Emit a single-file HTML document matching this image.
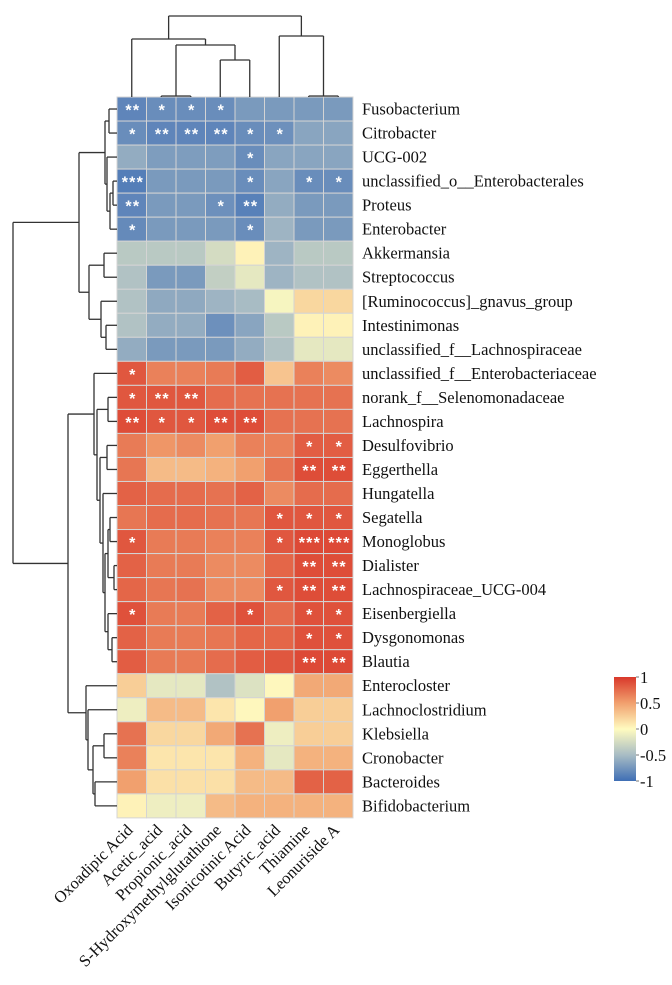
<!DOCTYPE html>
<html><head><meta charset="utf-8"><style>
html,body{margin:0;padding:0;background:#fff;}
svg{display:block;font-family:"Liberation Serif",serif;}
</style></head><body>
<svg id="chart" width="672" height="985" viewBox="0 0 672 985" xmlns="http://www.w3.org/2000/svg"></svg>
<script>
const columns = ["Oxoadipic Acid","Acetic_acid","Propionic_acid","S-Hydroxymethylglutathione","Isonicotinic Acid","Butyric_acid","Thiamine","Leonuriside A"];
const rows = ["Fusobacterium","Citrobacter","UCG-002","unclassified_o__Enterobacterales","Proteus","Enterobacter","Akkermansia","Streptococcus","[Ruminococcus]_gnavus_group","Intestinimonas","unclassified_f__Lachnospiraceae","unclassified_f__Enterobacteriaceae","norank_f__Selenomonadaceae","Lachnospira","Desulfovibrio","Eggerthella","Hungatella","Segatella","Monoglobus","Dialister","Lachnospiraceae_UCG-004","Eisenbergiella","Dysgonomonas","Blautia","Enterocloster","Lachnoclostridium","Klebsiella","Cronobacter","Bacteroides","Bifidobacterium"];
const values = [
[-0.85,-0.8,-0.8,-0.8,-0.72,-0.72,-0.72,-0.72],
[-0.8,-0.85,-0.85,-0.85,-0.8,-0.78,-0.65,-0.65],
[-0.6,-0.7,-0.7,-0.7,-0.8,-0.65,-0.65,-0.65],
[-0.9,-0.72,-0.72,-0.72,-0.8,-0.65,-0.8,-0.8],
[-0.85,-0.72,-0.72,-0.78,-0.88,-0.6,-0.72,-0.72],
[-0.82,-0.72,-0.72,-0.72,-0.8,-0.55,-0.72,-0.72],
[-0.4,-0.4,-0.4,-0.25,0.05,-0.55,-0.4,-0.4],
[-0.45,-0.72,-0.72,-0.35,-0.15,-0.55,-0.45,-0.45],
[-0.45,-0.62,-0.62,-0.55,-0.5,-0.05,0.2,0.2],
[-0.45,-0.6,-0.6,-0.78,-0.65,-0.4,0.05,0.05],
[-0.6,-0.72,-0.72,-0.72,-0.6,-0.45,-0.15,-0.15],
[0.85,0.65,0.65,0.68,0.82,0.3,0.65,0.6],
[0.85,0.85,0.85,0.75,0.72,0.72,0.72,0.72],
[0.9,0.85,0.85,0.9,0.9,0.72,0.72,0.72],
[0.68,0.55,0.6,0.5,0.65,0.65,0.82,0.82],
[0.7,0.35,0.35,0.4,0.5,0.7,0.9,0.9],
[0.8,0.75,0.75,0.72,0.8,0.6,0.75,0.75],
[0.7,0.75,0.75,0.72,0.7,0.85,0.85,0.85],
[0.85,0.68,0.68,0.65,0.65,0.85,0.92,0.92],
[0.8,0.68,0.68,0.6,0.6,0.78,0.9,0.9],
[0.78,0.7,0.72,0.6,0.6,0.85,0.9,0.9],
[0.88,0.68,0.68,0.8,0.88,0.75,0.88,0.88],
[0.8,0.68,0.68,0.7,0.78,0.78,0.88,0.88],
[0.82,0.68,0.68,0.75,0.82,0.85,0.92,0.92],
[0.25,-0.15,-0.15,-0.45,-0.2,0.02,0.45,0.45],
[-0.1,0.35,0.35,0.12,0.02,0.5,0.25,0.25],
[0.72,0.2,0.2,0.45,0.72,-0.1,0.25,0.25],
[0.65,0.12,0.12,0.12,0.4,-0.15,0.4,0.4],
[0.5,0.15,0.15,0.15,0.35,0.35,0.8,0.8],
[0.05,-0.1,-0.1,0.35,0.4,0.4,0.4,0.4]
];
const stars = [
["**","*","*","*","","","",""],
["*","**","**","**","*","*","",""],
["","","","","*","","",""],
["***","","","","*","","*","*"],
["**","","","*","**","","",""],
["*","","","","*","","",""],
["","","","","","","",""],
["","","","","","","",""],
["","","","","","","",""],
["","","","","","","",""],
["","","","","","","",""],
["*","","","","","","",""],
["*","**","**","","","","",""],
["**","*","*","**","**","","",""],
["","","","","","","*","*"],
["","","","","","","**","**"],
["","","","","","","",""],
["","","","","","*","*","*"],
["*","","","","","*","***","***"],
["","","","","","","**","**"],
["","","","","","*","**","**"],
["*","","","","*","","*","*"],
["","","","","","","*","*"],
["","","","","","","**","**"],
["","","","","","","",""],
["","","","","","","",""],
["","","","","","","",""],
["","","","","","","",""],
["","","","","","","",""],
["","","","","","","",""]
];
const legendTicks = [1,0.5,0,-0.5,-1];

const NS="http://www.w3.org/2000/svg";
const svg=document.getElementById('chart');
const X0=117, Y0=97, CW=29.5, RH=24.03;
const colX=i=>X0+CW*i, rowY=i=>Y0+RH*i;
const colC=i=>colX(i)+CW/2, rowC=i=>rowY(i)+RH/2;
const stops=[[-1,[63,110,181]],[-0.5,[168,188,196]],[0,[255,251,192]],[0.5,[241,160,110]],[1,[217,56,43]]];
function color(v){
  v=Math.max(-1,Math.min(1,v));
  for(let k=0;k<stops.length-1;k++){
    const [a,ca]=stops[k],[b,cb]=stops[k+1];
    if(v<=b){const t=(v-a)/(b-a);return 'rgb('+ca.map((c,j)=>Math.round(c+(cb[j]-c)*t)).join(',')+')';}
  }
}
function mk(tag,attrs,parent){const e=document.createElementNS(NS,tag);for(const k in attrs)e.setAttribute(k,attrs[k]);(parent||svg).appendChild(e);return e;}

const cellsG=mk('g',{});


values.forEach((row,i)=>row.forEach((v,j)=>{
  const r=mk('rect',{x:colX(j),y:rowY(i),width:CW,height:RH,fill:color(v),stroke:'#d4d4d4','stroke-width':1},cellsG);
  
  
  if(stars[i][j]){
    const t=mk('text',{x:colC(j),y:rowC(i)+6.5,'text-anchor':'middle',fill:'#fff','font-size':16,'font-weight':'bold','font-family':'Liberation Sans, sans-serif','letter-spacing':'-1'},cellsG);
    t.textContent=stars[i][j].split('').join('\u2009');
    
    
  }
}));

rows.forEach((n,i)=>{
  const t=mk('text',{x:362,y:rowC(i)+5.5,'font-size':16.5,fill:'#111'});
  t.textContent=n;
  
  
});
columns.forEach((n,j)=>{
  const cx=colC(j)+2, cy=831;
  const t=mk('text',{x:cx,y:cy,'font-size':16.5,fill:'#111','text-anchor':'end',transform:'rotate(-45 '+cx+' '+cy+')'});
  t.textContent=n;
  
  
});

const dg=mk('g',{stroke:'#333','stroke-width':1.3,fill:'none'});


function line(x1,y1,x2,y2){mk('path',{d:'M'+x1+' '+y1+'L'+x2+' '+y2},dg);}
function rowNode(n){
  if(typeof n==='number') return {y:rowC(n),x:X0};
  const a=rowNode(n[0]),b=rowNode(n[1]),x=n[2];
  line(a.x,a.y,x,a.y);line(b.x,b.y,x,b.y);line(x,a.y,x,b.y);
  return {y:(a.y+b.y)/2,x:x};
}
const E=[[0,1,109],[2,[[3,4,113],5,110],107],105];
const I=[[6,7,104],[8,[9,10,106],101],89];
const J=[E,I,79];
const Q=[16,[[[17,18,110],[19,20,114],108],[21,[22,23,112],108],105],103];
const R=[[14,15,107],Q,100];
const N=[11,[[12,13,108],R,97],94];
const S1=[24,[25,[[26,27,104],[28,29,95],93],88],86];
const T=[N,S1,68];
rowNode([J,T,13]);
function colNode(n){
  if(typeof n==='number') return {x:colC(n),y:Y0};
  const a=colNode(n[0]),b=colNode(n[1]),y=n[2];
  line(a.x,a.y,a.x,y);line(b.x,b.y,b.x,y);line(a.x,y,b.x,y);
  return {x:(a.x+b.x)/2,y:y};
}
colNode([[0,[[1,2,96],[3,4,60],45],39],[5,[6,7,96],36],16]);

const defs=mk('defs',{});
const lg=mk('linearGradient',{id:'lg',x1:0,y1:1,x2:0,y2:0},defs);
stops.forEach(s=>mk('stop',{offset:((s[0]+1)/2*100)+'%','stop-color':color(s[0])},lg));
const LY0=677,LY1=781;
const leg=mk('g',{});


const lb=mk('rect',{x:614,y:LY0,width:22,height:LY1-LY0,fill:'url(#lg)'},leg);


legendTicks.forEach(v=>{
  const y=LY1-(v+1)/2*(LY1-LY0);
  mk('line',{x1:636,x2:639,y1:y,y2:y,stroke:'#777'},leg);
  const t=mk('text',{x:640,y:y+6,'font-size':16.5,fill:'#111'},leg);
  t.textContent=String(v);
  
  
});
</script>
</body></html>
